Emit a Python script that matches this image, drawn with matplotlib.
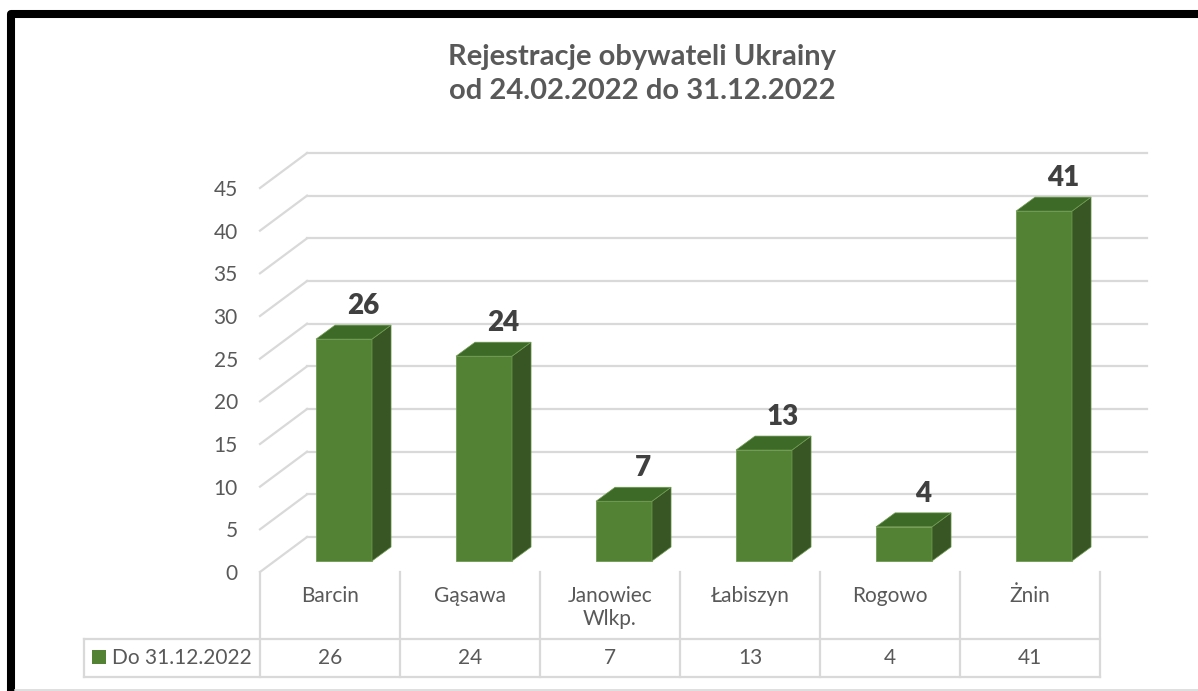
import matplotlib
matplotlib.use('Agg')
import matplotlib.pyplot as plt
import matplotlib.transforms as mtransforms
from matplotlib.patches import Rectangle, Polygon
from matplotlib.lines import Line2D
import numpy as np

# data
categories = ['Barcin', 'Gąsawa', 'Janowiec\nWlkp.', 'Łabiszyn', 'Rogowo', 'Żnin']
values = [26, 24, 7, 13, 4, 41]
series_name = 'Do 31.12.2022'
yticks = [0, 5, 10, 15, 20, 25, 30, 35, 40, 45]
title_lines = ['Rejestracje obywateli Ukrainy', 'od 24.02.2022 do 31.12.2022']

plt.rcParams['font.family'] = ['Lato', 'DejaVu Sans']

W, H = 1198, 691
fig = plt.figure(figsize=(W / 100, H / 100), dpi=100)
fig.patch.set_facecolor('white')


def fy(py):
    # pixel row from top -> figure fraction
    return 1 - py / H


# axes = front floor plane of the 3d chart
ax = fig.add_axes([260 / W, fy(572), 840 / W, 384 / H])
ax.set_xlim(-0.5, len(categories) - 0.5)
ax.set_ylim(0, 45)
ax.patch.set_alpha(0)
for s in ax.spines.values():
    s.set_visible(False)
ax.set_xticks([])
ax.set_yticks(yticks)
ax.tick_params(axis='y', length=0, pad=16, labelsize=15, labelcolor='#595959')

grid_c = '#d9d9d9'
wall_dx, wall_dy = 0.336, 4.10      # back wall offset (category units, value units)
bar_dx, bar_dy = 0.10, 1.29         # bar front face offset
bar_w = 0.40
dep_dx, dep_dy = 0.136, 1.64        # bar depth

x0, x1 = -0.5, len(categories) - 0.5
for v in yticks:
    ax.plot([x0 + wall_dx, x1 + wall_dx], [v + wall_dy, v + wall_dy],
            color=grid_c, lw=1.6, clip_on=False, zorder=1)
    ax.plot([x0, x0 + wall_dx], [v, v + wall_dy],
            color=grid_c, lw=1.6, clip_on=False, zorder=1)

front_c, side_c, top_c = '#548235', '#375623', '#3e6a28'
edge_c = '#6f9c52'
x = np.arange(len(categories))
ax.bar(x + bar_dx, values, width=bar_w, bottom=bar_dy, color=front_c,
       edgecolor=edge_c, linewidth=0.6, clip_on=False, zorder=3)
for xi, v in zip(x, values):
    xr = xi + bar_dx + bar_w / 2
    xl = xi + bar_dx - bar_w / 2
    yt = v + bar_dy
    side = Polygon([(xr, bar_dy), (xr + dep_dx, bar_dy + dep_dy),
                    (xr + dep_dx, yt + dep_dy), (xr, yt)],
                   closed=True, facecolor=side_c, edgecolor=edge_c, lw=0.5,
                   clip_on=False, zorder=3)
    top = Polygon([(xl, yt), (xr, yt), (xr + dep_dx, yt + dep_dy),
                   (xl + dep_dx, yt + dep_dy)],
                  closed=True, facecolor=top_c, edgecolor=edge_c, lw=0.5,
                  clip_on=False, zorder=3)
    ax.add_patch(side)
    ax.add_patch(top)
    ax.text(xi + bar_dx + dep_dx, yt + dep_dy + 1.3, str(v), ha='center',
            va='baseline', fontsize=20, fontweight='heavy', color='#404040',
            zorder=4)

# data table under the axis
blend = mtransforms.blended_transform_factory(ax.transData, fig.transFigure)
tbl_c = '#d9d9d9'
for b in np.arange(x0, x1 + 0.01, 1.0):
    ax.plot([b, b], [fy(572), fy(677)], transform=blend, color=tbl_c, lw=1.6,
            clip_on=False)
for py in (639, 677):
    fig.add_artist(Line2D([84 / W, 1100 / W], [fy(py), fy(py)], color=tbl_c, lw=1.6))
fig.add_artist(Line2D([84 / W, 84 / W], [fy(639), fy(677)], color=tbl_c, lw=1.6))

for xi, cat, v in zip(x, categories, values):
    ax.text(xi, fy(586), cat, transform=blend, ha='center', va='top',
            fontsize=15, color='#595959', linespacing=1.2)
    ax.text(xi, fy(658), str(v), transform=blend, ha='center', va='center',
            fontsize=15, color='#595959')

fig.add_artist(Rectangle((92 / W, fy(664)), 14 / W, 14 / H, transform=fig.transFigure,
                         facecolor=front_c, edgecolor='none'))
fig.text(112 / W, fy(658), series_name, ha='left', va='center', fontsize=15,
         color='#595959')

# title
fig.text(642 / W, fy(65), title_lines[0], ha='center', va='baseline',
         fontsize=21, fontweight='bold', color='#595959')
fig.text(642 / W, fy(99), title_lines[1], ha='center', va='baseline',
         fontsize=21, fontweight='bold', color='#595959')

# chart area outline
fig.add_artist(Line2D([15 / W, 1], [fy(690), fy(690)], color='#d9d9d9', lw=1.2))
fig.add_artist(Rectangle((11 / W, fy(720)), 1.2, (720 - 14) / H,
                         transform=fig.transFigure, fill=False,
                         edgecolor='black', lw=5.8, joinstyle='round'))

fig.savefig('out.png', dpi=100)
